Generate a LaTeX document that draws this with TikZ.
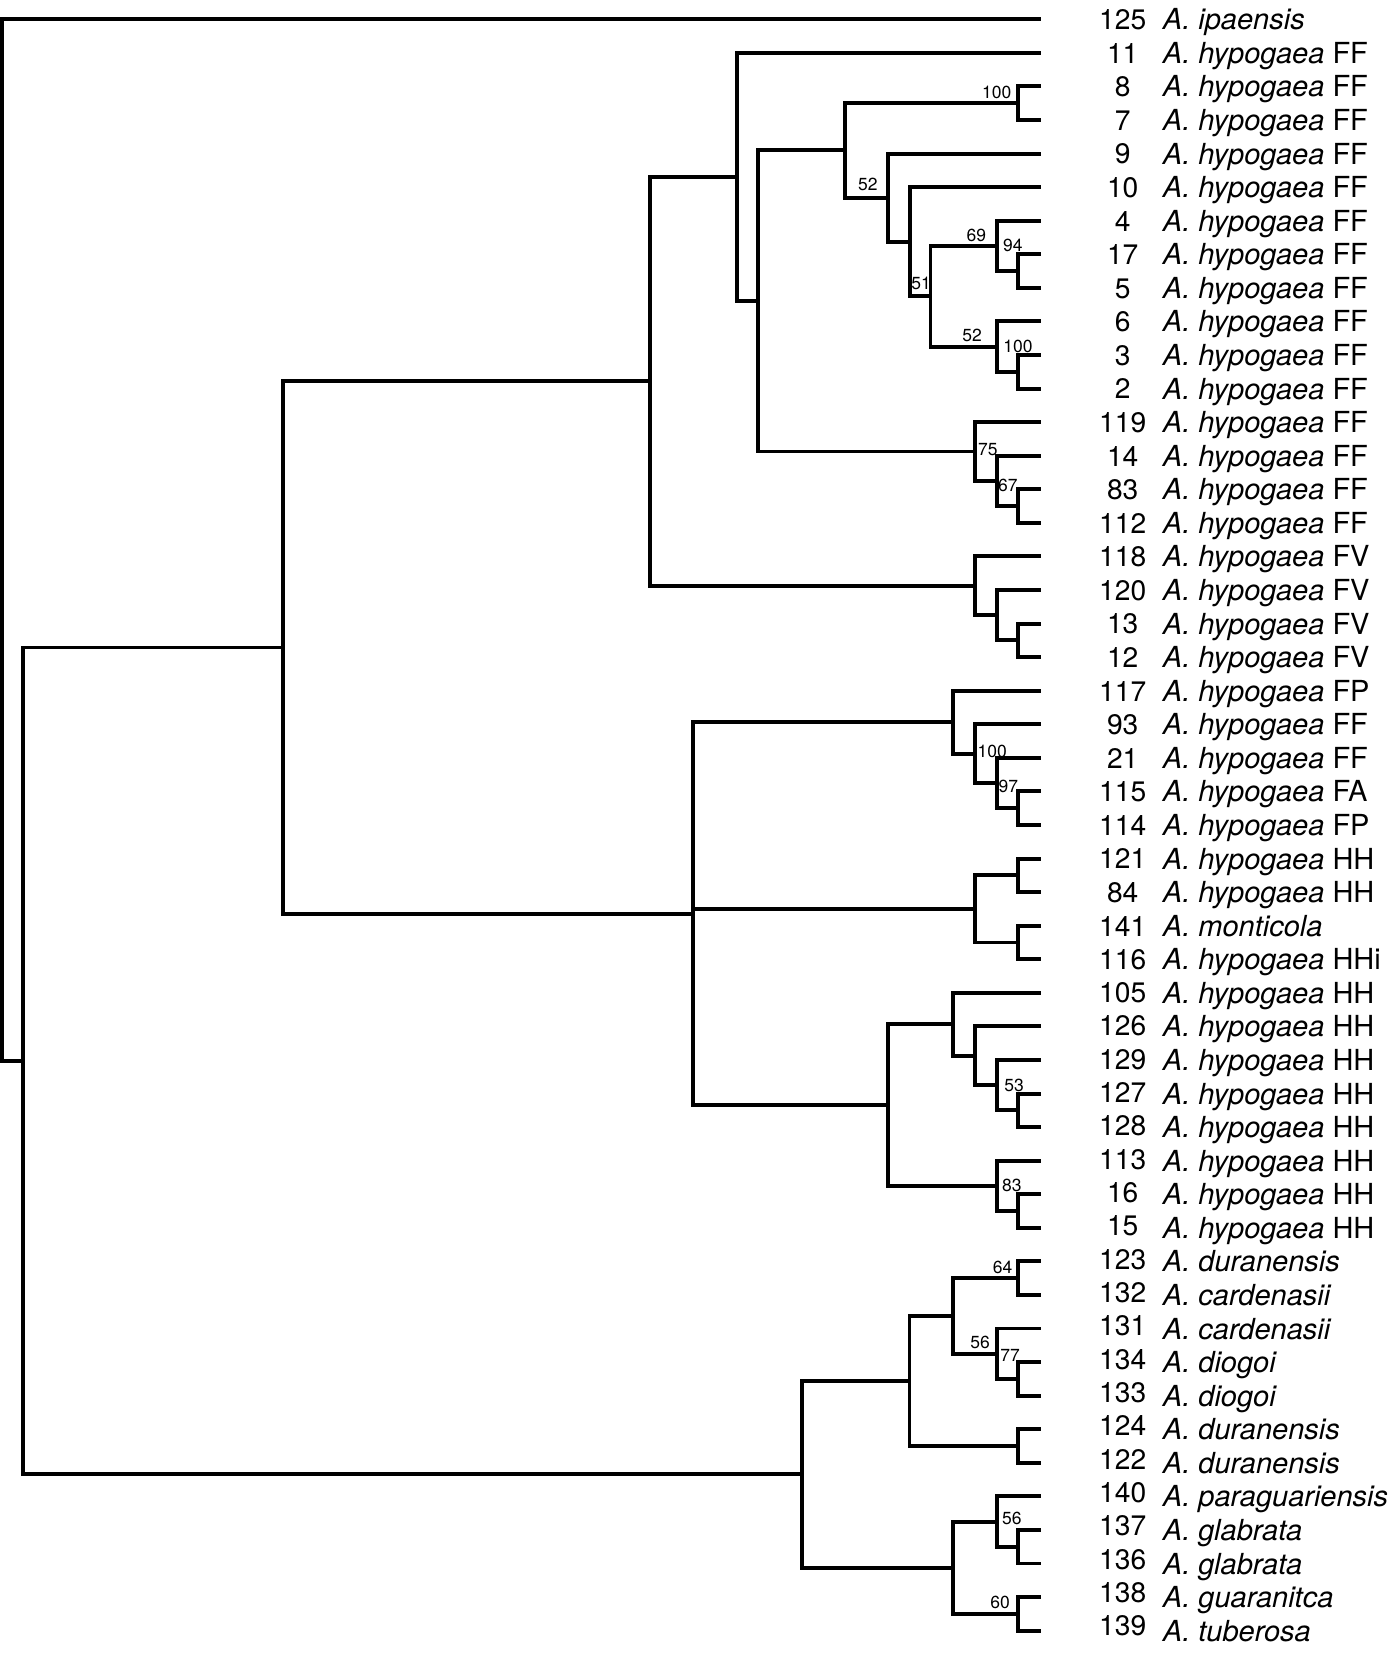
\documentclass[tikz,border=0pt]{standalone}
\usepackage{fontspec}
\setmainfont{TeX Gyre Heros}
\newcommand\tleaf[3]{%
  \coordinate (t#1) at (1041,{19.3+33.57*#1});
  \node[num] (n#1) at (1122.7,{29.6+33.57*#1-max(0,#1-27)*0.25}) {#2};
  \node[taxon] (s#1) at (1162.7,{29.8+33.57*#1}) {#3};
}
\newcommand\hyp[1]{\textit{A. hypogaea} #1}
\begin{document}
\begin{tikzpicture}[x=1pt,y=-1pt,
  branch/.style={line width=3.9pt, line join=miter, line cap=butt},
  num/.style={anchor=base, inner sep=0pt, font=\fontsize{28.2}{30}\selectfont},
  taxon/.style={anchor=base west, inner sep=0pt, font=\fontsize{29}{30}\selectfont},
  boot/.style={inner sep=0pt, font=\fontsize{17.5}{18}\selectfont}]
\useasboundingbox (0,0) rectangle (1389,1653);

% ---- leaves ----
\tleaf{0}{125}{\textit{A. ipaensis}}
\tleaf{1}{11}{\hyp{FF}}
\tleaf{2}{8}{\hyp{FF}}
\tleaf{3}{7}{\hyp{FF}}
\tleaf{4}{9}{\hyp{FF}}
\tleaf{5}{10}{\hyp{FF}}
\tleaf{6}{4}{\hyp{FF}}
\tleaf{7}{17}{\hyp{FF}}
\tleaf{8}{5}{\hyp{FF}}
\tleaf{9}{6}{\hyp{FF}}
\tleaf{10}{3}{\hyp{FF}}
\tleaf{11}{2}{\hyp{FF}}
\tleaf{12}{119}{\hyp{FF}}
\tleaf{13}{14}{\hyp{FF}}
\tleaf{14}{83}{\hyp{FF}}
\tleaf{15}{112}{\hyp{FF}}
\tleaf{16}{118}{\hyp{FV}}
\tleaf{17}{120}{\hyp{FV}}
\tleaf{18}{13}{\hyp{FV}}
\tleaf{19}{12}{\hyp{FV}}
\tleaf{20}{117}{\hyp{FP}}
\tleaf{21}{93}{\hyp{FF}}
\tleaf{22}{21}{\hyp{FF}}
\tleaf{23}{115}{\hyp{FA}}
\tleaf{24}{114}{\hyp{FP}}
\tleaf{25}{121}{\hyp{HH}}
\tleaf{26}{84}{\hyp{HH}}
\tleaf{27}{141}{\textit{A. monticola}}
\tleaf{28}{116}{\hyp{HHi}}
\tleaf{29}{105}{\hyp{HH}}
\tleaf{30}{126}{\hyp{HH}}
\tleaf{31}{129}{\hyp{HH}}
\tleaf{32}{127}{\hyp{HH}}
\tleaf{33}{128}{\hyp{HH}}
\tleaf{34}{113}{\hyp{HH}}
\tleaf{35}{16}{\hyp{HH}}
\tleaf{36}{15}{\hyp{HH}}
\tleaf{37}{123}{\textit{A. duranensis}}
\tleaf{38}{132}{\textit{A. cardenasii}}
\tleaf{39}{131}{\textit{A. cardenasii}}
\tleaf{40}{134}{\textit{A. diogoi}}
\tleaf{41}{133}{\textit{A. diogoi}}
\tleaf{42}{124}{\textit{A. duranensis}}
\tleaf{43}{122}{\textit{A. duranensis}}
\tleaf{44}{140}{\textit{A. paraguariensis}}
\tleaf{45}{137}{\textit{A. glabrata}}
\tleaf{46}{136}{\textit{A. glabrata}}
\tleaf{47}{138}{\textit{A. guaranitca}}
\tleaf{48}{139}{\textit{A. tuberosa}}

% ---- internal nodes ----
\coordinate (C87)   at (1017.7,103.2);
\coordinate (C175)  at (1017.7,271.1);
\coordinate (C32)   at (1017.7,371.8);
\coordinate (C83)   at (1017.7,506.1);
\coordinate (C1312) at (1017.7,640.35);
\coordinate (C115)  at (1017.7,808.2);
\coordinate (C121)  at (1017.7,875.35);
\coordinate (C141)  at (1017.7,942.5);
\coordinate (C127)  at (1017.7,1110.3);
\coordinate (C16)   at (1017.7,1211.05);
\coordinate (C123)  at (1017.7,1278.2);
\coordinate (C134)  at (1017.7,1378.9);
\coordinate (C124)  at (1017.7,1446.05);
\coordinate (C137)  at (1017.7,1546.75);
\coordinate (C138)  at (1017.7,1613.9);

\coordinate (N11)   at (996.7,245.9);
\coordinate (N12)   at (996.7,346.6);
\coordinate (N10)   at (930.5,296.25);
\coordinate (N9)    at (910,241.7);
\coordinate (N8)    at (888.3,197.65);
\coordinate (N7)    at (845,150.4);
\coordinate (Nb)    at (996.7,480.9);
\coordinate (N75)   at (975.3,451.5);
\coordinate (N6)    at (758,300.95);
\coordinate (N5)    at (737,176.9);
\coordinate (NFV2)  at (996.7,615.2);
\coordinate (NFV)   at (975.3,585.8);
\coordinate (N3)    at (650.3,381.35);
\coordinate (N21)   at (996.7,783.0);
\coordinate (NFPb)  at (975.3,753.65);
\coordinate (NFP)   at (952.7,722.2);
\coordinate (NHH)   at (975.3,908.9);
\coordinate (N53)   at (996.7,1085.15);
\coordinate (NHH2b) at (975.3,1055.8);
\coordinate (NHH2)  at (952.7,1024.3);
\coordinate (N113)  at (996.7,1185.9);
\coordinate (N888)  at (888.3,1105.1);
\coordinate (NBig)  at (693,913.65);
\coordinate (N2)    at (282.7,647.5);
\coordinate (N131)  at (996.7,1353.7);
\coordinate (NW1a)  at (952.7,1315.95);
\coordinate (NW1)   at (909.5,1381.0);
\coordinate (N140)  at (996.7,1521.6);
\coordinate (NW2)   at (952.7,1567.75);
\coordinate (NW)    at (802,1474.4);
\coordinate (N1)    at (22.7,1060.95);
\coordinate (R)     at (2,540.1);

% ---- branches ----
\draw[branch] (C87) |- (t2)  (C87) |- (t3);
\draw[branch] (C175) |- (t7)  (C175) |- (t8);
\draw[branch] (C32) |- (t10)  (C32) |- (t11);
\draw[branch] (C83) |- (t14)  (C83) |- (t15);
\draw[branch] (C1312) |- (t18)  (C1312) |- (t19);
\draw[branch] (C115) |- (t23)  (C115) |- (t24);
\draw[branch] (C121) |- (t25)  (C121) |- (t26);
\draw[branch] (C141) |- (t27)  (C141) |- (t28);
\draw[branch] (C127) |- (t32)  (C127) |- (t33);
\draw[branch] (C16) |- (t35)  (C16) |- (t36);
\draw[branch] (C123) |- (t37)  (C123) |- (t38);
\draw[branch] (C134) |- (t40)  (C134) |- (t41);
\draw[branch] (C124) |- (t42)  (C124) |- (t43);
\draw[branch] (C137) |- (t45)  (C137) |- (t46);
\draw[branch] (C138) |- (t47)  (C138) |- (t48);

\draw[branch] (N11) |- (t6)  (N11) |- (C175);
\draw[branch] (N12) |- (t9)  (N12) |- (C32);
\draw[branch] (N10) |- (N11)  (N10) |- (N12);
\draw[branch] (N9) |- (t5)  (N9) |- (N10);
\draw[branch] (N8) |- (t4)  (N8) |- (N9);
\draw[branch] (N7) |- (C87)  (N7) |- (N8);
\draw[branch] (Nb) |- (t13)  (Nb) |- (C83);
\draw[branch] (N75) |- (t12)  (N75) |- (Nb);
\draw[branch] (N6) |- (N7)  (N6) |- (N75);
\draw[branch] (N5) |- (t1)  (N5) |- (N6);
\draw[branch] (NFV2) |- (t17)  (NFV2) |- (C1312);
\draw[branch] (NFV) |- (t16)  (NFV) |- (NFV2);
\draw[branch] (N3) |- (N5)  (N3) |- (NFV);
\draw[branch] (N21) |- (t22)  (N21) |- (C115);
\draw[branch] (NFPb) |- (t21)  (NFPb) |- (N21);
\draw[branch] (NFP) |- (t20)  (NFP) |- (NFPb);
\draw[branch] (NHH) |- (C121)  (NHH) |- (C141);
\draw[branch] (N53) |- (t31)  (N53) |- (C127);
\draw[branch] (NHH2b) |- (t30)  (NHH2b) |- (N53);
\draw[branch] (NHH2) |- (t29)  (NHH2) |- (NHH2b);
\draw[branch] (N113) |- (t34)  (N113) |- (C16);
\draw[branch] (N888) |- (NHH2)  (N888) |- (N113);
\draw[branch] (NBig) |- (NFP)  (NBig) |- (NHH)  (NBig) |- (N888);
\draw[branch] (N2) |- (N3)  (N2) |- (NBig);
\draw[branch] (N131) |- (t39)  (N131) |- (C134);
\draw[branch] (NW1a) |- (C123)  (NW1a) |- (N131);
\draw[branch] (NW1) |- (NW1a)  (NW1) |- (C124);
\draw[branch] (N140) |- (t44)  (N140) |- (C137);
\draw[branch] (NW2) |- (N140)  (NW2) |- (C138);
\draw[branch] (NW) |- (NW1)  (NW) |- (NW2);
\draw[branch] (N1) |- (N2)  (N1) |- (NW);
\draw[branch] (R) |- (t0)  (R) |- (N1);

% ---- bootstrap values ----
\node[boot] (b1)  at (996.7,92.5)   {100};
\node[boot] (b2)  at (867.8,184)    {52};
\node[boot] (b3)  at (921,283.3)    {51};
\node[boot] (b4)  at (976.3,235.5)  {69};
\node[boot] (b5)  at (1012.8,245)   {94};
\node[boot] (b6)  at (972.2,335)    {52};
\node[boot] (b7)  at (1018,346)     {100};
\node[boot] (b8)  at (987.8,450)    {75};
\node[boot] (b9)  at (1007.8,485)   {67};
\node[boot] (b10) at (992.2,751.7)  {100};
\node[boot] (b11) at (1008.3,786.7) {97};
\node[boot] (b12) at (1014,1085)    {53};
\node[boot] (b13) at (1011.8,1185)  {83};
\node[boot] (b14) at (1002.5,1267.5){64};
\node[boot] (b15) at (980,1342.5)   {56};
\node[boot] (b16) at (1010,1355)    {77};
\node[boot] (b17) at (1011.8,1518)  {56};
\node[boot] (b18) at (1000,1602)    {60};
\end{tikzpicture}
\end{document}
